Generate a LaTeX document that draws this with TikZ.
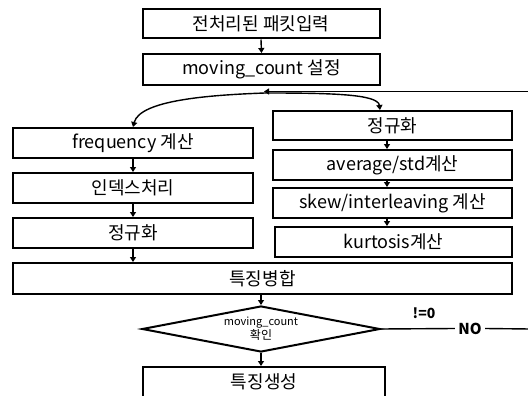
\documentclass[tikz,border=0pt]{standalone}
\usepackage{fontspec}
\setmainfont{Noto Sans CJK KR}
\usetikzlibrary{shapes.geometric,arrows.meta}
\tikzset{
  box/.style={draw, line width=2pt, rectangle, inner sep=0pt, font=\fontsize{18}{20}\selectfont},
  arr/.style={line width=1.4pt, -{Triangle[length=5pt,width=6pt]}},
  ln/.style={line width=1.4pt},
}
\begin{document}
\begin{tikzpicture}[x=1pt,y=-1pt]
\useasboundingbox (0,0) rectangle (528,396);
\clip (0,0) rectangle (528,396);
\node[box, minimum width=237pt, minimum height=29pt] (b1) at (261,24) {전처리된 패킷입력};
\node[box, minimum width=237pt, minimum height=31pt] (b2) at (261.5,69.5) {moving\_count 설정};
\node[box, minimum width=240pt, minimum height=30pt] (l1) at (133,143) {frequency 계산};
\node[box, minimum width=240pt, minimum height=30pt] (l2) at (133,188) {인덱스처리};
\node[box, minimum width=240pt, minimum height=30pt] (l3) at (133,233) {정규화};
\node[box, minimum width=239pt, minimum height=29pt] (r1) at (392.5,125.5) {정규화};
\node[box, minimum width=239pt, minimum height=30pt] (r2) at (392.5,165) {average/std계산};
\node[box, minimum width=239pt, minimum height=30pt] (r3) at (392.5,203) {skew/interleaving 계산};
\node[box, minimum width=237pt, minimum height=30pt] (r4) at (393.5,242) {kurtosis계산};
\node[box, minimum width=499pt, minimum height=31pt] (m) at (262.5,278.5) {특징병합};
\node[diamond, draw, line width=2pt, aspect=5.17, minimum width=238pt, minimum height=46pt, inner sep=0pt,
      align=center, font=\fontsize{11}{9}\selectfont] (d) at (261,329) {moving\_count\\{\fontsize{12}{9}\selectfont 확인}};
\node[box, minimum width=242pt, minimum height=36pt] (g) at (264,385) {};
\node[font=\fontsize{18}{20}\selectfont] at (264,382) {특징생성};

\coordinate (rx) at (387,0);
\coordinate (rc) at (380,0);
\draw[arr] (b1.south) -- (b2.north);
\coordinate (j) at (265,93);
\coordinate (re) at (530,91.5);
\draw[arr] (re) -- (264,91.5);
\draw[arr] (j) .. controls (210,95) and (140,100) .. (l1.north);
\draw[arr] (j) .. controls (330,93) and (378,94) .. (rc |- r1.north);
\draw[arr] (l1.south) -- (l2.north);
\draw[arr] (l2.south) -- (l3.north);
\draw[arr] (l3.south) -- (l3.south |- m.north);
\draw[arr] (rx |- r1.south) -- (rx |- r2.north);
\draw[arr] (rx |- r2.south) -- (rx |- r3.north);
\draw[arr] (rx |- r3.south) -- (rx |- r4.north);
\draw[arr] (m.south -| d.north) -- (d.north);
\draw[arr] (d.south) -- (d.south |- g.north);
\node[font=\bfseries\fontsize{14}{16}\selectfont] (ne) at (424,313) {!=0};
\node[font=\bfseries\fontsize{15}{16}\selectfont] (no) at (470,328.5) {NO};
\coordinate (noend) at (530,329);
\draw[ln] (d.east) -- (no.west);
\draw[ln] (no.east) -- (noend);
\end{tikzpicture}
\end{document}
